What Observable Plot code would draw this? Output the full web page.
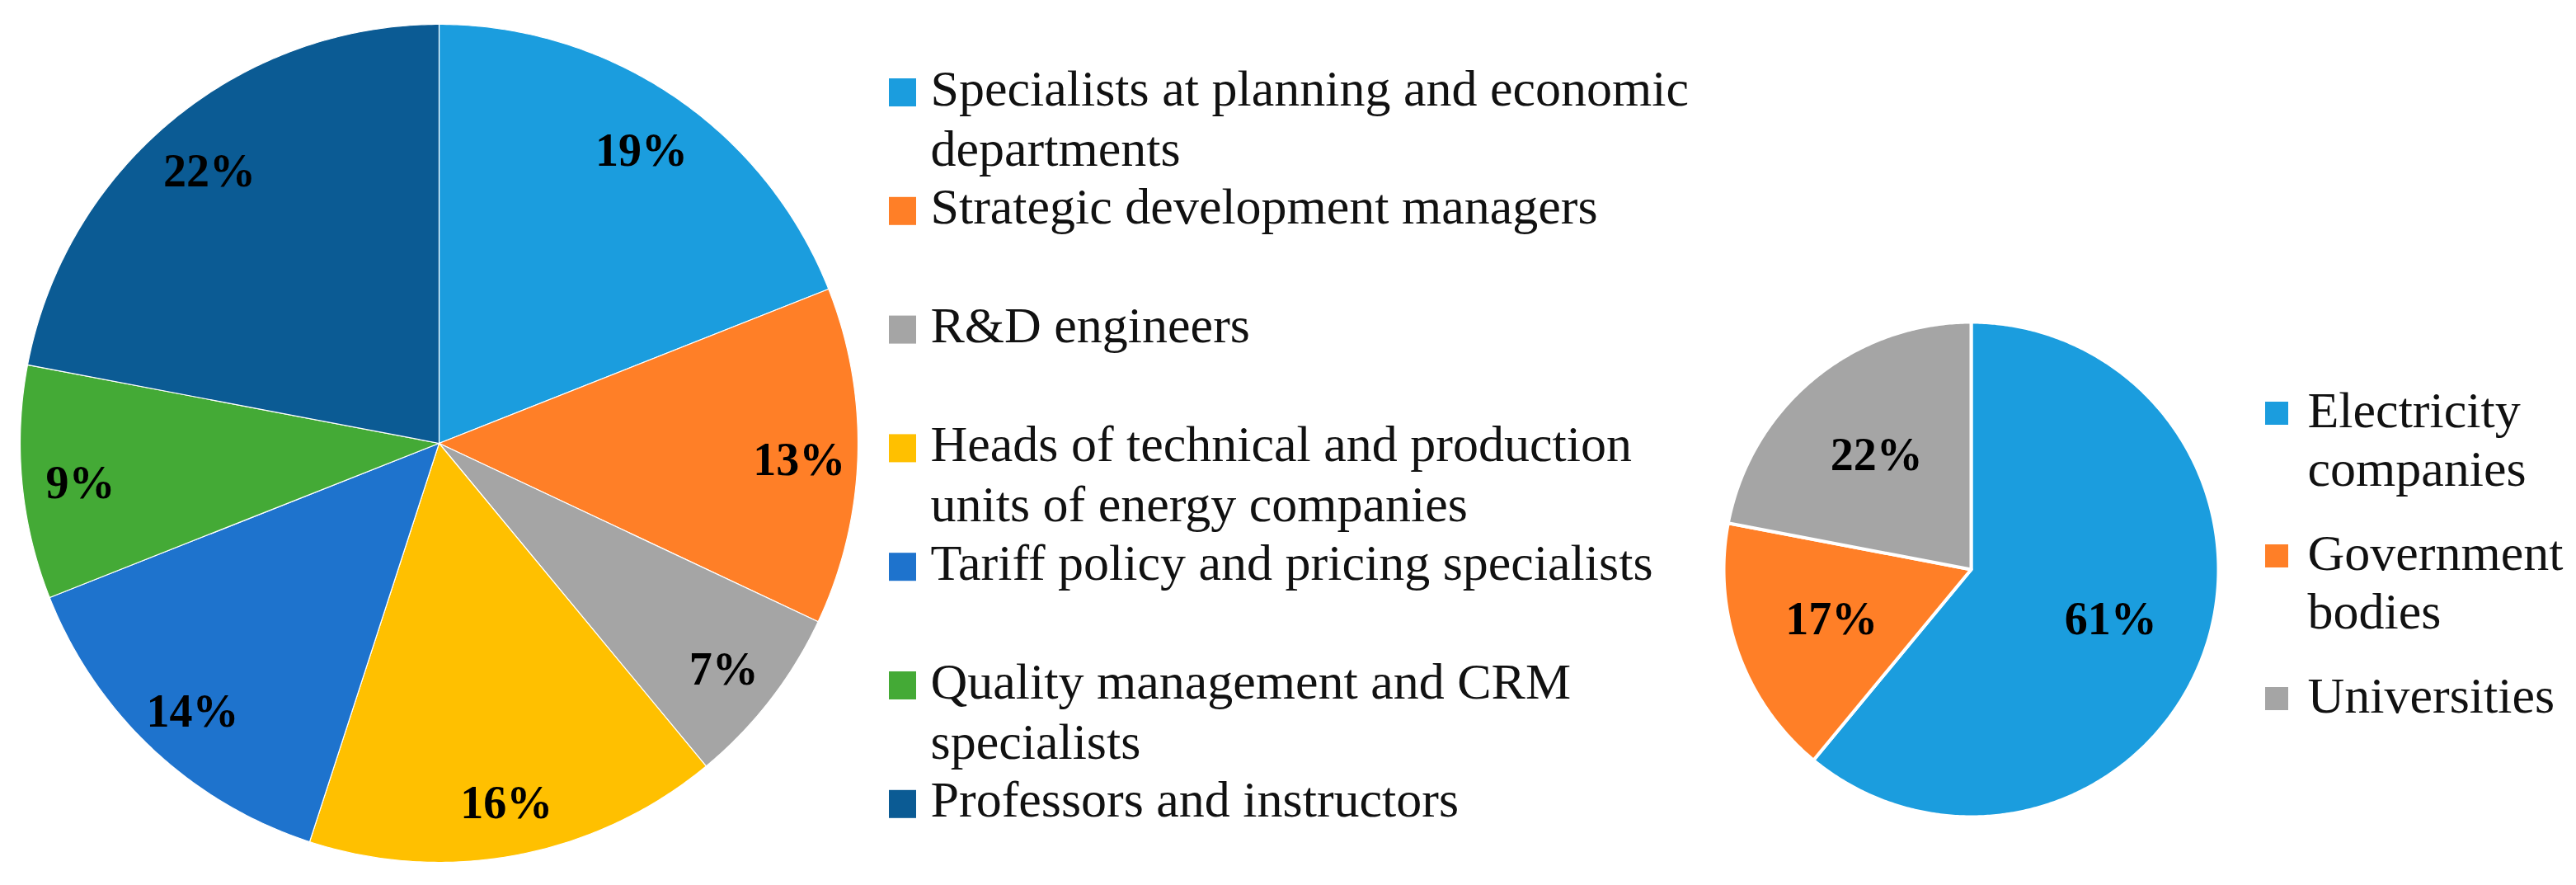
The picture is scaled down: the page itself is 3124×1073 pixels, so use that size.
<!DOCTYPE html>
<html>
<head>
<meta charset="utf-8">
<script src="https://cdn.jsdelivr.net/npm/d3@7"></script>
<script src="https://cdn.jsdelivr.net/npm/@observablehq/plot@0.6"></script>
<style>
  html, body { margin: 0; padding: 0; background: #fff; }
  #chart svg { display: block; }
</style>
</head>
<body>
<div id="chart"></div>
<script>
// ---- Data ----
const roles = [
  "Specialists at planning and economic departments",
  "Strategic development managers",
  "R&D engineers",
  "Heads of technical and production units of energy companies",
  "Tariff policy and pricing specialists",
  "Quality management and CRM specialists",
  "Professors and instructors"
];
const roleLegendLines = [
  ["Specialists at planning and economic", "departments"],
  ["Strategic development managers"],
  ["R&D engineers"],
  ["Heads of technical and production", "units of energy companies"],
  ["Tariff policy and pricing specialists"],
  ["Quality management and CRM", "specialists"],
  ["Professors and instructors"]
];
const roleShares = [19, 13, 7, 16, 14, 9, 22];
const roleColors = ["#1B9DDE", "#FF7F27", "#A5A5A5", "#FFC000", "#1E73CD", "#44AA36", "#0B5B94"];

const sectors = ["Electricity companies", "Government bodies", "Universities"];
const sectorLegendLines = [["Electricity", "companies"], ["Government", "bodies"], ["Universities"]];
const sectorShares = [61, 17, 22];
const sectorColors = ["#1B9DDE", "#FF7F27", "#A5A5A5"];

// ---- Layout ----
const W = 3124, H = 1073;
const pies = [
  {names: roles, shares: roleShares, cx: 532, cy: 537, r: 508, labelK: 0.86, dy: 7},
  {names: sectors, shares: sectorShares, cx: 2390, cy: 690, r: 300, labelK: 0.6, dy: 0}
];

const slicePts = [];
const labels = [];
pies.forEach((p, pi) => {
  const total = d3.sum(p.shares);
  let acc = 0;
  p.names.forEach((name, i) => {
    const a0 = acc / total * 2 * Math.PI;
    acc += p.shares[i];
    const a1 = acc / total * 2 * Math.PI;
    const key = pi + ":" + name;
    slicePts.push({key, name, x: p.cx, y: p.cy});
    const steps = Math.max(2, Math.ceil((a1 - a0) / (Math.PI / 360)));
    for (let s = 0; s <= steps; s++) {
      const a = a0 + (a1 - a0) * s / steps;
      slicePts.push({key, name, x: p.cx + p.r * Math.sin(a), y: p.cy - p.r * Math.cos(a)});
    }
    const am = (a0 + a1) / 2;
    labels.push({
      text: p.shares[i] + "%",
      x: p.cx + p.labelK * p.r * Math.sin(am),
      y: p.cy - p.labelK * p.r * Math.cos(am) + p.dy
    });
  });
});

// legends
const legendText = [];
const legendBoxes = [];
roleLegendLines.forEach((lines, i) => {
  const base = 127 + i * 143.8;
  legendBoxes.push({name: roles[i], x1: 1078, x2: 1111, y1: base - 32, y2: base + 2});
  lines.forEach((t, j) => legendText.push({text: t, x: 1128, y: base + j * 73}));
});
sectorLegendLines.forEach((lines, i) => {
  const base = 517 + i * 173;
  legendBoxes.push({name: sectors[i], x1: 2747, x2: 2775, y1: base - 30, y2: base - 2});
  lines.forEach((t, j) => legendText.push({text: t, x: 2798, y: base + j * 71}));
});

const chart = Plot.plot({
  width: W,
  height: H,
  margin: 0,
  x: {domain: [0, W], range: [0, W], axis: null},
  y: {domain: [0, H], range: [0, H], axis: null},
  color: {
    domain: [...roles, ...sectors],
    range: [...roleColors, ...sectorColors]
  },
  style: {background: "#fff"},
  marks: [
    Plot.line(slicePts.filter(d => d.key.startsWith("0:")), {
      x: "x", y: "y", z: "key", fill: "name", stroke: "white", strokeWidth: 1.2,
      curve: "linear-closed", strokeLinejoin: "round"
    }),
    Plot.line(slicePts.filter(d => d.key.startsWith("1:")), {
      x: "x", y: "y", z: "key", fill: "name", stroke: "white", strokeWidth: 4,
      curve: "linear-closed", strokeLinejoin: "round"
    }),
    Plot.text(labels, {
      x: "x", y: "y", text: "text",
      fontFamily: "Liberation Serif", fontWeight: "bold", fontSize: 56, fill: "#000"
    }),
    Plot.rect(legendBoxes, {x1: "x1", x2: "x2", y1: "y1", y2: "y2", fill: "name"}),
    Plot.text(legendText, {
      x: "x", y: "y", text: "text", textAnchor: "start", lineAnchor: "bottom",
      fontFamily: "Liberation Serif", fontSize: 62, fill: "#111"
    })
  ]
});
document.getElementById("chart").appendChild(chart);
</script>
</body>
</html>
